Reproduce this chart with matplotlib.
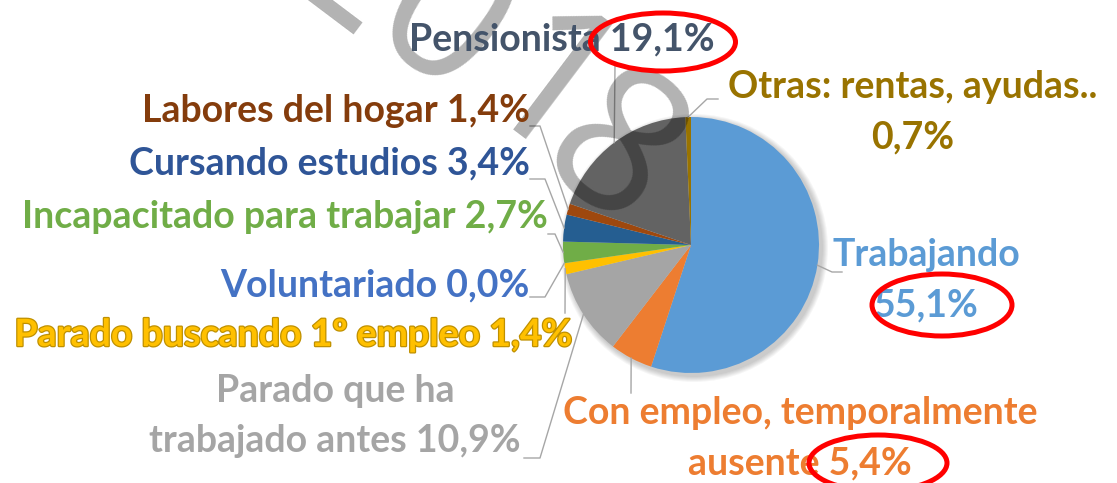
import numpy as np
import matplotlib
matplotlib.use("Agg")
import matplotlib.pyplot as plt
from matplotlib.patches import Ellipse, Circle
import matplotlib.patheffects as pe

W, H = 1117, 483

categories = [
    "Trabajando",
    "Con empleo, temporalmente\nausente",
    "Parado que ha\ntrabajado antes",
    "Parado buscando 1º empleo",
    "Voluntariado",
    "Incapacitado para trabajar",
    "Cursando estudios",
    "Labores del hogar",
    "Pensionista",
    "Otras: rentas, ayudas..",
]
values = [55.1, 5.4, 10.9, 1.4, 0.0, 2.7, 3.4, 1.4, 19.1, 0.7]
slice_colors = ["#5B9BD5", "#ED7D31", "#A5A5A5", "#FFC000", "#4472C4",
                "#70AD47", "#255E91", "#9E480E", "#636363", "#997300"]
label_colors = ["#5B9BD5", "#ED7D31", "#A5A5A5", "#FFC000", "#4472C4",
                "#70AD47", "#2F5597", "#843C0C", "#44546A", "#997300"]
# the percentage goes on its own line for these labels
pct_newline = [True, False, False, False, False, False, False, False, False, True]

# layout (pixel coords): text anchor, alignment, leader elbow points
label_pos = [
    (926, 280, "center"), (800, 438, "center"), (335, 416, "center"),
    (572, 335, "right"), (530, 285, "right"), (548, 217, "right"),
    (530, 163, "right"), (530, 111, "right"), (562, 39, "center"),
    (913, 112, "center"),
]
elbows = [
    [(832, 272), (842, 272)], [(631, 393)], [(540, 458), (524, 458)],
    [(565, 313)], [(545, 297), (530, 297)], [(555, 234), (548, 234)],
    [(545, 179), (530, 179)], [(540, 126), (530, 126)], [(615, 65)],
    [(707, 99), (718, 99)],
]

cx, cy, R = 691, 245, 128
FONT = ["Lato", "DejaVu Sans"]


def Y(py):
    return H - py


fig = plt.figure(figsize=(W / 100, H / 100), dpi=100)
ax = fig.add_axes([0, 0, 1, 1])

# soft shadow under the pie
for k in range(6):
    ax.add_patch(Circle((cx + 3, Y(cy) - 3), R + 1 + k, color="black",
                        alpha=0.035, lw=0, zorder=0))

ax.pie(values, colors=slice_colors, startangle=90, counterclock=False,
       center=(cx, Y(cy)), radius=R, frame=True,
       wedgeprops=dict(linewidth=0, zorder=1))

total = sum(values)
start = 0.0
for i, v in enumerate(values):
    mid = (start + v / 2) / total * 2 * np.pi
    start += v
    ex, ey = cx + R * np.sin(mid), cy - R * np.cos(mid)
    pts = [(ex, ey)] + elbows[i]
    ax.plot([p[0] for p in pts], [Y(p[1]) for p in pts],
            color="#A6A6A6", lw=1.0, zorder=2)

    pct = f"{v:.1f}".replace(".", ",") + "%"
    txt = categories[i] + ("\n" if pct_newline[i] else " ") + pct
    tx, ty, ha = label_pos[i]
    t = ax.text(tx, Y(ty), txt, ha=ha, va="center", fontsize=27,
                fontweight="bold", color=label_colors[i], family=FONT,
                linespacing=1.6, multialignment="center", zorder=4)
    if i == 3:
        t.set_path_effects([pe.withStroke(linewidth=1.8, foreground="#BF9000")])

# watermark digits
for ch, (px, py) in zip("2018", [(345, -30), (440, 28), (543, 100), (610, 160)]):
    ax.text(px, Y(py), ch, fontsize=145, color="black", alpha=0.3,
            rotation=-37, ha="center", va="center",
            family=["Open Sans", "DejaVu Sans"], zorder=3)

# red highlight ellipses
for ex_, ey_, w, h in [(663, 42, 145, 58), (942, 305, 140, 62), (878, 463, 138, 56)]:
    ax.add_patch(Ellipse((ex_, Y(ey_)), w, h, fill=False, ec="#FF0000",
                         lw=3.6, zorder=5))

ax.set_xlim(0, W)
ax.set_ylim(0, H)
ax.set_aspect("equal")
ax.axis("off")

fig.savefig("out.png", dpi=100)
